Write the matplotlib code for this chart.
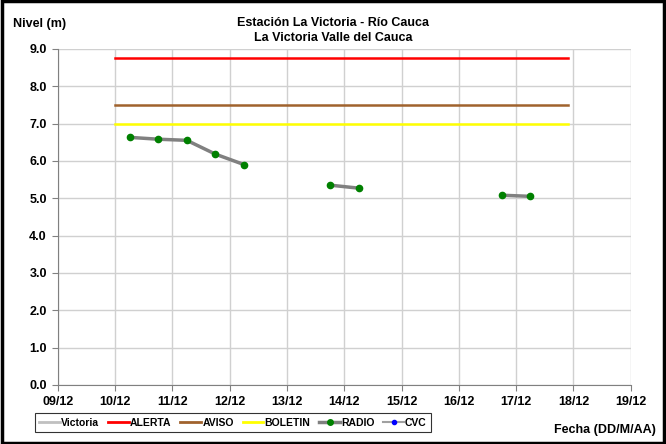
import matplotlib
matplotlib.use('Agg')
import matplotlib.pyplot as plt
import numpy as np
from matplotlib.lines import Line2D

plt.rcParams['font.family'] = ['Liberation Sans', 'DejaVu Sans']
plt.rcParams['font.weight'] = 'bold'

# days counted from 09/12 at 00:00
tick_labels = ['09/12', '10/12', '11/12', '12/12', '13/12', '14/12',
               '15/12', '16/12', '17/12', '18/12', '19/12']
radio_days = [1.25, 1.75, 2.25, 2.75, 3.25, np.nan, 4.75, 5.25, np.nan, 7.75, 8.25]
radio_level = [6.63, 6.58, 6.55, 6.18, 5.90, np.nan, 5.35, 5.27, np.nan, 5.08, 5.05]
threshold_span = [1.0, 8.9]
alerta = 8.75
aviso = 7.5
boletin = 7.0

fig = plt.figure(figsize=(6.66, 4.44), dpi=100)
fig.patches.append(plt.Rectangle((0.003, 0.003), 0.994, 0.994, transform=fig.transFigure,
                                 fill=False, edgecolor='black', linewidth=2.5))
ax = fig.add_axes([0.087, 0.133, 0.86, 0.757])

ax.plot(threshold_span, [alerta, alerta], color='#ff0000', linewidth=1.8, zorder=3)
ax.plot(threshold_span, [aviso, aviso], color='#a0622d', linewidth=1.8, zorder=3)
ax.plot(threshold_span, [boletin, boletin], color='#ffff00', linewidth=1.8, zorder=3)
ax.plot(radio_days, radio_level, color='#808080', linewidth=2.5, marker='o',
        markersize=4.5, markerfacecolor='green', markeredgecolor='green', zorder=4)

ax.set_xlim(0, 10)
ax.set_ylim(0, 9)
ax.set_xticks(np.arange(len(tick_labels)))
ax.set_xticklabels(tick_labels, fontsize=9, fontweight='bold')
ax.set_yticks(np.arange(0, 10))
ax.set_yticklabels(['%.1f' % v for v in np.arange(0, 10)], fontsize=9, fontweight='bold')
ax.grid(True, color='#d0d0d0', linewidth=1)
ax.set_axisbelow(True)
for s in ['top', 'right']:
    ax.spines[s].set_visible(False)
for s in ['left', 'bottom']:
    ax.spines[s].set_color('#808080')
ax.tick_params(direction='out', length=4, color='#808080', pad=4)

fig.text(0.5, 0.942, 'Estación La Victoria - Río Cauca', ha='center', fontsize=9, fontweight='bold')
fig.text(0.5, 0.908, 'La Victoria Valle del Cauca', ha='center', fontsize=9, fontweight='bold')
fig.text(0.02, 0.94, 'Nivel (m)', fontsize=9, fontweight='bold')
fig.text(0.985, 0.025, 'Fecha (DD/M/AA)', ha='right', fontsize=9, fontweight='bold')

handles = [
    Line2D([], [], color='#c0c0c0', linewidth=2),
    Line2D([], [], color='#ff0000', linewidth=2),
    Line2D([], [], color='#a0622d', linewidth=2),
    Line2D([], [], color='#ffff00', linewidth=2),
    Line2D([], [], color='#808080', linewidth=2.5, marker='o', markersize=4,
           markerfacecolor='green', markeredgecolor='green'),
    Line2D([], [], color='#a0a0a0', linewidth=1.5, marker='o', markersize=3,
           markerfacecolor='blue', markeredgecolor='blue'),
]
labels = ['Victoria', 'ALERTA', 'AVISO', 'BOLETIN', 'RADIO', 'CVC']
leg = fig.legend(handles, labels, loc='center left', bbox_to_anchor=(0.052, 0.048), ncol=6,
                 fontsize=7.5, frameon=True, fancybox=False, edgecolor='black',
                 handlelength=2.0, handletextpad=0.1, columnspacing=0.85, borderpad=0.45,
                 borderaxespad=0)
leg.get_frame().set_linewidth(0.8)
for t in leg.get_texts():
    t.set_fontweight('bold')

fig.savefig('out.png', dpi=100)
